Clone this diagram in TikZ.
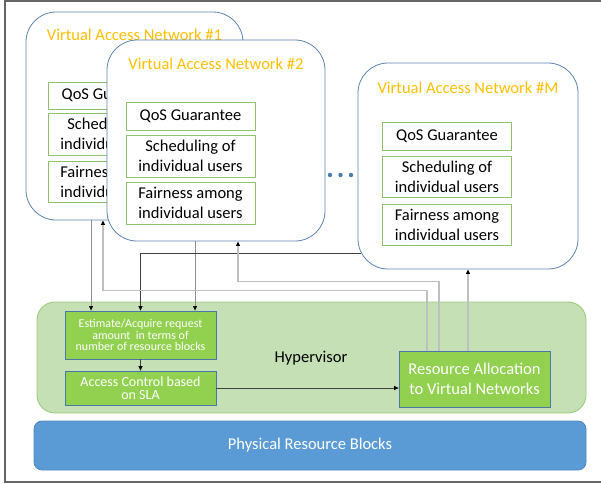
\documentclass[tikz,border=0pt]{standalone}
\usepackage{fontspec}
\setmainfont{Carlito}
\usetikzlibrary{arrows.meta,calc}
\definecolor{vanblue}{HTML}{5B84B1}
\definecolor{titleorange}{HTML}{FFC000}
\definecolor{boxgreen}{HTML}{8FC36B}
\definecolor{hypfill}{HTML}{C5E0B4}
\definecolor{hypdraw}{HTML}{9DCB7E}
\definecolor{blockfill}{HTML}{92D050}
\definecolor{blockdraw}{HTML}{4A76A8}
\definecolor{physfill}{HTML}{5B9BD5}
\definecolor{physdraw}{HTML}{4F88BE}
\tikzset{
  van/.style={draw=vanblue, fill=white, rounded corners=30pt, inner sep=0pt, line width=0.8pt},
  vantitle/.style={text=titleorange, font=\fontsize{16.5}{20}\selectfont},
  fnbox/.style={draw=boxgreen, fill=white, line width=0.9pt, minimum width=129pt, align=center, inner sep=0pt, font=\fontsize{16.5}{20}\selectfont},
  hvblock/.style={draw=blockdraw, fill=blockfill, text=white, line width=0.8pt, minimum width=151pt, align=center, inner sep=0pt},
  tip/.style={-{Triangle[length=4.5pt,width=4pt,color=black]}},
  uplink/.style={tip, draw=black!25, line width=1.4pt},
  downlink/.style={tip, draw=black!45, line width=0.9pt},
  darklink/.style={tip, draw=black!75, line width=0.7pt}
}
\begin{document}
\begin{tikzpicture}[x=1pt,y=-1pt]
\useasboundingbox (0,0) rectangle (601,483);
\draw[black!60, line width=1.2pt] (5,1) rectangle (603,482);
% virtual access network #1
\node[van, minimum width=217pt, minimum height=208pt] (van1) at (134.5,116) {};
\node[vantitle] (title1) at (134.5,35) {Virtual Access Network \#1};
\node[fnbox, minimum height=27pt] (qos1) at (112.5,95.5) {QoS Guarantee};
\node[fnbox, minimum height=42pt] (sched1) at (112.5,134) {Scheduling of\\individual users};
\node[fnbox, minimum height=41pt] (fair1) at (112.5,181.5) {Fairness among\\individual users};
% virtual access network #2
\node[van, minimum width=218pt, minimum height=201pt] (van2) at (216,140.5) {};
\node[vantitle] (title2) at (216,64) {Virtual Access Network \#2};
\node[fnbox, minimum height=28pt] (qos2) at (190.5,116) {QoS Guarantee};
\node[fnbox, minimum height=42pt] (sched2) at (190.5,156) {Scheduling of\\individual users};
\node[fnbox, minimum height=42pt] (fair2) at (190.5,203) {Fairness among\\individual users};
% virtual access network #M
\node[van, minimum width=220pt, minimum height=206pt] (vanM) at (468,166) {};
\node[vantitle] (titleM) at (468,88) {Virtual Access Network \#M};
\node[fnbox, minimum height=28pt] (qosM) at (447,136) {QoS Guarantee};
\node[fnbox, minimum height=41pt] (schedM) at (447,176.5) {Scheduling of\\individual users};
\node[fnbox, minimum height=41pt] (fairM) at (447,224.5) {Fairness among\\individual users};
\fill[physfill!80!black] (330,175) circle (2.2) (340.5,175) circle (2.2) (351,175) circle (2.2);
% hypervisor
\node[draw=hypdraw, fill=hypfill, line width=0.9pt, rounded corners=18pt, minimum width=549pt, minimum height=111pt] (hyp) at (311.5,357.5) {};
\node[font=\fontsize{16.5}{20}\selectfont] (hyplabel) at (311,358) {Hypervisor};
\node[hvblock, minimum height=48pt, font=\fontsize{12}{11.7}\selectfont] (est) at (140.5,335) {Estimate/Acquire request\\amount\ \ in terms of\\number of resource blocks};
\node[hvblock, minimum height=34pt, font=\fontsize{14}{13.3}\selectfont] (acc) at (140.5,388) {Access Control based\\on SLA};
\node[hvblock, minimum height=56pt, font=\fontsize{16.5}{20}\selectfont] (res) at (474.5,379) {Resource Allocation\\to Virtual Networks};
% physical layer
\node[draw=physdraw, fill=physfill, text=white, line width=0.8pt, rounded corners=8pt, minimum width=552pt, minimum height=49pt, font=\fontsize{16.5}{20}\selectfont] (phys) at (310,445.5) {Physical Resource Blocks};
% connectors
\draw[downlink] (van1.south -| 91,0) -- (est.north -| 91,0);
\draw[downlink] (van2.south -| 195,0) -- (est.north -| 195,0);
\draw[darklink] ($(vanM.west |- 0,253)+(3,0)$) -| (est.north);
\draw[uplink] (res.north -| 427,0) -- ++(0,-60) -| (van1.south -| 103,0);
\draw[uplink] (res.north -| 439,0) -- ++(0,-69) -| (van2.south -| 238,0);
\draw[uplink] (res.north -| vanM.south) -- (vanM.south);
\draw[darklink] (est.south) -- (acc.north);
\draw[darklink] (acc.east) -- (res.west |- acc.east);
\end{tikzpicture}
\end{document}
